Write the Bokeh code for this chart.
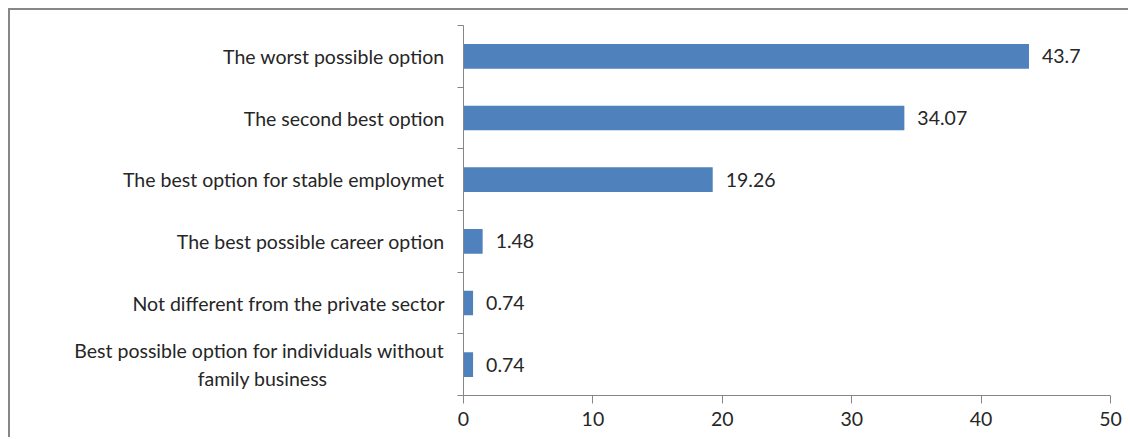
from bokeh.plotting import figure
from bokeh.models import ColumnDataSource, FixedTicker, Range1d
from bokeh.core.properties import value
from bokeh.embed import file_html
from bokeh.resources import INLINE

categories = [
    "Best possible option for individuals without\nfamily business",
    "Not different from the private sector",
    "The best possible career option",
    "The best option for stable employmet",
    "The second best option",
    "The worst possible option",
]
values = [0.74, 0.74, 1.48, 19.26, 34.07, 43.7]
x_ticks = [0, 10, 20, 30, 40, 50]

FONT = "Lato"
FS = "19.5px"
AXIS = "#868686"
TXT = "#262626"

ys = [i + 0.5 for i in range(len(categories))]
src = ColumnDataSource(dict(y=ys, v=values, lab=[str(v) for v in values]))

p = figure(width=1120, height=429, x_range=Range1d(0, 50), y_range=Range1d(0, len(categories)),
           output_backend="svg", toolbar_location=None,
           min_border_left=453, min_border_right=20, min_border_top=15, min_border_bottom=44)
p.styles = {"margin-left": "8px", "margin-top": "8px",
            "border-left": "2px solid #878787", "border-top": "2px solid #878787"}
p.outline_line_color = None
p.xgrid.grid_line_color = None
p.ygrid.grid_line_color = None

p.hbar(y="y", right="v", left=0, height=0.4, source=src, fill_color="#4F81BD", line_color=None)
p.text(x="v", y="y", text="lab", source=src, x_offset=13, text_baseline="middle", text_align="left",
       text_font=value(FONT), text_font_size=FS, text_color=TXT)

xa = p.xaxis[0]
xa.ticker = FixedTicker(ticks=x_ticks, minor_ticks=[])
xa.axis_line_color = AXIS
xa.major_tick_line_color = AXIS
xa.major_tick_out = 8
xa.major_tick_in = 0
xa.minor_tick_line_color = None
xa.major_label_text_font = FONT
xa.major_label_text_font_size = FS
xa.major_label_text_color = TXT
xa.major_label_standoff = 8


def centre_lines(label):
    # right-aligned axis labels: pad shorter lines so they sit centred under the longest one
    lines = label.split("\n")
    if len(lines) == 1:
        return label
    longest = max(len(s) for s in lines)
    out = []
    for s in lines:
        pad = int((longest - len(s)) / 3.6)
        out.append(s + "\u2003" * pad)
    return "\n".join(out)


ya = p.yaxis[0]
ya.ticker = FixedTicker(ticks=ys, minor_ticks=list(range(len(categories) + 1)))
ya.major_label_overrides = {y: centre_lines(c) for y, c in zip(ys, categories)}
ya.axis_line_color = AXIS
ya.major_tick_line_color = None
ya.minor_tick_line_color = AXIS
ya.minor_tick_out = 6
ya.minor_tick_in = 0
ya.major_label_text_font = FONT
ya.major_label_text_font_size = FS
ya.major_label_text_color = TXT
ya.major_label_standoff = 13

open("out.html", "w").write(file_html(p, INLINE))
